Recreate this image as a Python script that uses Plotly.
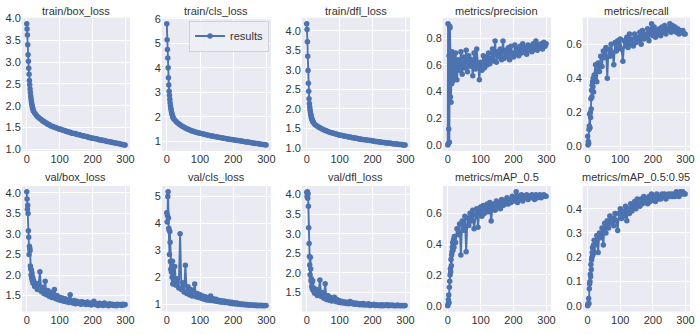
import plotly.graph_objects as go

# ---------------- data ----------------
epochs = list(range(0, 20)) + list(range(20, 300, 4)) + [299]

titles = ["train/box_loss", "train/cls_loss", "train/dfl_loss", "metrics/precision", "metrics/recall",
          "val/box_loss", "val/cls_loss", "val/dfl_loss", "metrics/mAP_0.5", "metrics/mAP_0.5:0.95"]

train_box_loss = [3.88, 3.76, 3.62, 3.40, 3.17, 3.02, 2.86, 2.72, 2.58, 2.48,
                  2.38, 2.30, 2.22, 2.16, 2.10, 2.05, 2.01, 1.97, 1.94, 1.91,
                  1.88, 1.83, 1.79, 1.75, 1.73, 1.70, 1.68, 1.65, 1.64, 1.61,
                  1.60, 1.57, 1.57, 1.54, 1.53, 1.52, 1.50, 1.50, 1.48, 1.47,
                  1.46, 1.46, 1.44, 1.43, 1.43, 1.41, 1.41, 1.39, 1.39, 1.37,
                  1.37, 1.36, 1.36, 1.34, 1.34, 1.33, 1.32, 1.31, 1.31, 1.30,
                  1.29, 1.29, 1.27, 1.27, 1.26, 1.25, 1.25, 1.24, 1.24, 1.23,
                  1.22, 1.21, 1.21, 1.20, 1.20, 1.19, 1.18, 1.18, 1.17, 1.16,
                  1.16, 1.15, 1.15, 1.14, 1.13, 1.13, 1.12, 1.11, 1.11, 1.10,
                  1.10]

train_cls_loss = [5.80, 5.15, 4.75, 4.40, 4.00, 3.60, 3.30, 3.05, 2.88, 2.72,
                  2.58, 2.46, 2.36, 2.28, 2.21, 2.15, 2.10, 2.05, 2.01, 1.97,
                  1.94, 1.87, 1.81, 1.76, 1.72, 1.68, 1.64, 1.61, 1.58, 1.55,
                  1.52, 1.50, 1.48, 1.45, 1.43, 1.42, 1.40, 1.38, 1.37, 1.35,
                  1.33, 1.32, 1.31, 1.29, 1.28, 1.27, 1.25, 1.24, 1.23, 1.22,
                  1.21, 1.20, 1.19, 1.18, 1.17, 1.16, 1.15, 1.14, 1.13, 1.12,
                  1.11, 1.10, 1.09, 1.08, 1.08, 1.07, 1.06, 1.05, 1.04, 1.04,
                  1.03, 1.02, 1.01, 1.00, 0.99, 0.98, 0.98, 0.97, 0.96, 0.95,
                  0.94, 0.93, 0.92, 0.92, 0.91, 0.90, 0.89, 0.88, 0.88, 0.87,
                  0.86]

train_dfl_loss = [4.18, 4.03, 3.72, 3.35, 2.98, 2.66, 2.45, 2.26, 2.14, 2.05,
                  1.98, 1.92, 1.87, 1.83, 1.79, 1.76, 1.73, 1.71, 1.69, 1.67,
                  1.65, 1.61, 1.58, 1.56, 1.54, 1.52, 1.50, 1.48, 1.47, 1.45,
                  1.44, 1.42, 1.41, 1.40, 1.39, 1.38, 1.37, 1.36, 1.35, 1.34,
                  1.33, 1.33, 1.32, 1.31, 1.30, 1.30, 1.29, 1.28, 1.28, 1.27,
                  1.26, 1.26, 1.25, 1.25, 1.24, 1.23, 1.23, 1.22, 1.22, 1.21,
                  1.21, 1.20, 1.20, 1.19, 1.19, 1.18, 1.18, 1.17, 1.17, 1.16,
                  1.16, 1.15, 1.15, 1.14, 1.14, 1.13, 1.13, 1.13, 1.12, 1.12,
                  1.11, 1.11, 1.10, 1.10, 1.10, 1.09, 1.09, 1.09, 1.08, 1.08,
                  1.08]

precision = [0.00, 0.91, 0.01, 0.12, 0.67, 0.02, 0.89, 0.88, 0.36, 0.68,
             0.32, 0.55, 0.46, 0.70, 0.50, 0.62, 0.48, 0.66, 0.55, 0.60,
             0.52, 0.69, 0.49, 0.64, 0.56, 0.70, 0.53, 0.66, 0.58, 0.71,
             0.55, 0.67, 0.59, 0.64, 0.52, 0.69, 0.57, 0.72, 0.60, 0.49,
             0.62, 0.56, 0.67, 0.58, 0.66, 0.60, 0.69, 0.61, 0.65, 0.72,
             0.63, 0.78, 0.62, 0.70, 0.66, 0.72, 0.64, 0.78, 0.65, 0.71,
             0.67, 0.73, 0.64, 0.74, 0.69, 0.66, 0.75, 0.68, 0.72, 0.67,
             0.74, 0.69, 0.76, 0.70, 0.73, 0.68, 0.75, 0.71, 0.74, 0.70,
             0.76, 0.72, 0.78, 0.71, 0.75, 0.73, 0.76, 0.72, 0.77, 0.74,
             0.76]

recall = [0.06, 0.01, 0.03, 0.02, 0.10, 0.12, 0.19, 0.11, 0.20, 0.17,
          0.28, 0.22, 0.33, 0.29, 0.36, 0.38, 0.35, 0.40, 0.32, 0.39,
          0.42, 0.48, 0.38, 0.49, 0.44, 0.53, 0.47, 0.56, 0.52, 0.58,
          0.40, 0.57, 0.53, 0.60, 0.55, 0.48, 0.61, 0.56, 0.62, 0.58,
          0.63, 0.57, 0.50, 0.62, 0.59, 0.64, 0.58, 0.66, 0.60, 0.63,
          0.59, 0.66, 0.61, 0.64, 0.62, 0.67, 0.60, 0.68, 0.63, 0.66,
          0.64, 0.69, 0.62, 0.67, 0.72, 0.65, 0.70, 0.64, 0.68, 0.66,
          0.69, 0.65, 0.70, 0.67, 0.71, 0.66, 0.69, 0.68, 0.72, 0.67,
          0.71, 0.68, 0.70, 0.67, 0.69, 0.66, 0.68, 0.67, 0.68, 0.66,
          0.66]

val_box_loss = [4.03, 3.85, 3.60, 3.70, 3.50, 3.08, 2.92, 2.50, 2.70, 2.65,
                2.60, 2.22, 2.15, 2.00, 2.12, 1.92, 2.05, 1.86, 1.95, 1.80,
                1.88, 1.72, 1.80, 1.65, 1.75, 2.08, 1.60, 1.70, 1.55, 1.85,
                1.52, 1.62, 1.48, 1.58, 1.45, 1.55, 1.65, 1.42, 1.50, 1.40,
                1.46, 1.38, 1.44, 1.36, 1.42, 1.35, 1.40, 1.33, 1.52, 1.36,
                1.32, 1.38, 1.30, 1.36, 1.31, 1.34, 1.29, 1.35, 1.30, 1.33,
                1.28, 1.34, 1.29, 1.32, 1.27, 1.31, 1.36, 1.28, 1.30, 1.26,
                1.31, 1.27, 1.30, 1.26, 1.32, 1.27, 1.29, 1.25, 1.30, 1.27,
                1.29, 1.26, 1.28, 1.25, 1.29, 1.27, 1.28, 1.26, 1.29, 1.27,
                1.28]

val_cls_loss = [4.40, 4.05, 4.30, 5.00, 5.18, 4.20, 3.82, 3.75, 2.85, 3.70,
                3.30, 2.60, 2.30, 2.55, 2.20, 2.40, 2.00, 2.60, 1.75, 2.10,
                1.90, 2.40, 1.70, 1.95, 1.60, 3.62, 1.55, 1.80, 1.45, 2.45,
                1.40, 1.65, 1.35, 1.55, 1.30, 1.45, 1.75, 1.28, 1.40, 1.25,
                1.35, 1.22, 1.30, 1.18, 1.28, 1.16, 1.24, 1.15, 1.30, 1.14,
                1.20, 1.12, 1.18, 1.10, 1.15, 1.08, 1.13, 1.07, 1.12, 1.06,
                1.10, 1.05, 1.08, 1.03, 1.07, 1.02, 1.05, 1.01, 1.04, 1.00,
                1.02, 0.99, 1.01, 0.98, 1.00, 0.97, 0.99, 0.96, 0.98, 0.96,
                0.97, 0.95, 0.97, 0.94, 0.96, 0.94, 0.96, 0.94, 0.95, 0.94,
                0.95]

val_dfl_loss = [4.05, 3.95, 4.07, 3.90, 4.02, 3.70, 3.15, 2.75, 2.42, 2.20,
                1.95, 2.40, 2.10, 1.80, 1.85, 1.65, 1.75, 1.60, 1.80, 1.55,
                1.62, 1.48, 1.58, 1.42, 1.52, 1.82, 1.40, 1.50, 1.35, 1.72,
                1.32, 1.42, 1.30, 1.38, 1.28, 1.34, 1.38, 1.27, 1.32, 1.25,
                1.29, 1.24, 1.27, 1.23, 1.26, 1.22, 1.25, 1.21, 1.27, 1.22,
                1.24, 1.20, 1.23, 1.20, 1.22, 1.19, 1.21, 1.19, 1.22, 1.18,
                1.20, 1.18, 1.21, 1.17, 1.19, 1.18, 1.20, 1.17, 1.19, 1.17,
                1.18, 1.16, 1.19, 1.16, 1.18, 1.17, 1.19, 1.16, 1.18, 1.17,
                1.18, 1.16, 1.17, 1.16, 1.18, 1.16, 1.17, 1.16, 1.17, 1.16,
                1.17]

map50 = [0.00, 0.01, 0.04, 0.07, 0.02, 0.12, 0.16, 0.20, 0.24, 0.22,
         0.30, 0.26, 0.33, 0.35, 0.38, 0.41, 0.36, 0.40, 0.43, 0.38,
         0.45, 0.41, 0.50, 0.46, 0.53, 0.33, 0.55, 0.49, 0.58, 0.35,
         0.57, 0.52, 0.60, 0.55, 0.62, 0.50, 0.59, 0.63, 0.51, 0.61,
         0.64, 0.58, 0.65, 0.60, 0.63, 0.66, 0.61, 0.67, 0.55, 0.64,
         0.66, 0.62, 0.68, 0.64, 0.67, 0.63, 0.69, 0.65, 0.68, 0.66,
         0.70, 0.66, 0.69, 0.67, 0.71, 0.68, 0.70, 0.74, 0.67, 0.71,
         0.69, 0.72, 0.68, 0.71, 0.70, 0.72, 0.69, 0.71, 0.70, 0.72,
         0.71, 0.69, 0.72, 0.70, 0.71, 0.72, 0.70, 0.71, 0.72, 0.71,
         0.71]

map50_95 = [0.00, 0.005, 0.01, 0.03, 0.01, 0.07, 0.09, 0.10, 0.13, 0.12,
            0.17, 0.15, 0.19, 0.20, 0.22, 0.24, 0.21, 0.23, 0.25, 0.22,
            0.27, 0.25, 0.29, 0.22, 0.30, 0.28, 0.32, 0.25, 0.34, 0.30,
            0.35, 0.32, 0.37, 0.34, 0.36, 0.33, 0.38, 0.35, 0.31, 0.38,
            0.40, 0.36, 0.39, 0.37, 0.41, 0.35, 0.40, 0.38, 0.42, 0.39,
            0.41, 0.43, 0.40, 0.44, 0.42, 0.41, 0.44, 0.42, 0.45, 0.43,
            0.44, 0.42, 0.45, 0.43, 0.46, 0.44, 0.45, 0.43, 0.46, 0.44,
            0.45, 0.44, 0.46, 0.45, 0.46, 0.44, 0.45, 0.46, 0.45, 0.46,
            0.45, 0.46, 0.45, 0.47, 0.46, 0.45, 0.47, 0.46, 0.47, 0.46,
            0.46]

series = [train_box_loss, train_cls_loss, train_dfl_loss, precision, recall,
          val_box_loss, val_cls_loss, val_dfl_loss, map50, map50_95]

x_ticks = [0, 100, 200, 300]
y_ticks = [
    [1.0, 1.5, 2.0, 2.5, 3.0, 3.5, 4.0],
    [1, 2, 3, 4, 5, 6],
    [1.0, 1.5, 2.0, 2.5, 3.0, 3.5, 4.0],
    [0.0, 0.2, 0.4, 0.6, 0.8],
    [0.0, 0.2, 0.4, 0.6],
    [1.5, 2.0, 2.5, 3.0, 3.5, 4.0],
    [1, 2, 3, 4, 5],
    [1.0, 1.5, 2.0, 2.5, 3.0, 3.5, 4.0],
    [0.0, 0.2, 0.4, 0.6],
    [0.0, 0.1, 0.2, 0.3, 0.4],
]
y_fmt = [".1f", "d", ".1f", ".1f", ".1f", ".1f", "d", ".1f", ".1f", ".1f"]

# ---------------- layout ----------------
W, H = 700, 334
col_px = [(22, 131), (163, 273), (304, 413), (446, 555), (587, 695)]
row_px = [(13, 150), (186, 315)]
title_y_px = [6, 177]

BLUE = "#4C72B0"
FONT = "Liberation Sans, Arial, sans-serif"
TXT = "#333333"

fig = go.Figure()
layout = dict(
    width=W, height=H, margin=dict(l=0, r=0, t=0, b=0),
    paper_bgcolor="white", plot_bgcolor="#EAEAF2",
    font=dict(family=FONT, size=11, color=TXT),
    annotations=[],
    legend=dict(x=271 / W, y=1 - 16 / H, xanchor="right", yanchor="top",
                bgcolor="rgba(238,238,245,0.9)", bordercolor="#d0d0d8", borderwidth=1,
                font=dict(size=11, color=TXT), itemwidth=30),
)

xmin, xmax = min(epochs), max(epochs)
xpad = 0.05 * (xmax - xmin)

for i, (title, ys) in enumerate(zip(titles, series)):
    r, c = divmod(i, 5)
    n = i + 1
    xa = "x" if n == 1 else f"x{n}"
    ya = "y" if n == 1 else f"y{n}"
    fig.add_trace(go.Scatter(
        x=epochs, y=ys, mode="lines+markers", name="results",
        line=dict(color=BLUE, width=1.9),
        marker=dict(color=BLUE, size=5.5),
        xaxis=xa, yaxis=ya, showlegend=(i == 1),
    ))
    lo, hi = min(ys), max(ys)
    pad = 0.05 * (hi - lo)
    x0, x1 = col_px[c]
    y0, y1 = row_px[r]
    common = dict(showline=False, zeroline=False, gridcolor="white", gridwidth=1,
                  ticks="", tickfont=dict(size=11, color=TXT))
    layout["xaxis" if n == 1 else f"xaxis{n}"] = dict(
        domain=[x0 / W, x1 / W], anchor=ya, range=[xmin - xpad, xmax + xpad],
        tickvals=x_ticks, **common)
    layout["yaxis" if n == 1 else f"yaxis{n}"] = dict(
        domain=[1 - y1 / H, 1 - y0 / H], anchor=xa, range=[lo - pad, hi + pad],
        tickvals=y_ticks[i], tickformat=y_fmt[i], **common)
    layout["annotations"].append(dict(
        text=title, xref="paper", yref="paper", x=(x0 + x1) / 2 / W,
        y=1 - title_y_px[r] / H, xanchor="center", yanchor="middle",
        showarrow=False, font=dict(size=11, color=TXT, family=FONT)))

fig.update_layout(**layout)
fig.write_html("out.html")
